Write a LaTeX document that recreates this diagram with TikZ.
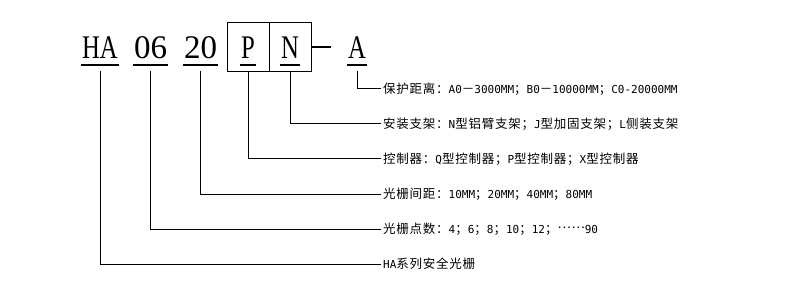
\documentclass[tikz,border=0pt]{standalone}
\usepackage{fontspec}
\newfontfamily\codefont[FakeStretch=0.75]{Liberation Serif}
\newfontfamily\codedigits{Liberation Serif}
\newfontfamily\cjk[LetterSpace=6]{Noto Sans CJK SC}
\newfontfamily\latfont{DejaVu Sans Mono}
\newcommand\lat[1]{{\latfont\fontsize{11}{12}\selectfont #1}}
\usetikzlibrary{positioning}

\begin{document}
\begin{tikzpicture}[
  x=1pt, y=-1pt,
  code/.style={inner sep=0pt, anchor=base, font=\codefont\fontsize{33}{33}\selectfont},
  digits/.style={code, font=\codedigits\fontsize{33}{33}\selectfont},
  cell/.style={draw, line width=1pt, minimum width=42pt, minimum height=49pt, inner sep=0pt},
  uline/.style={line width=2pt, shorten <=-1pt, shorten >=-1pt},
  leader/.style={line width=1pt},
  desc/.style={anchor=west, inner xsep=2pt, inner ysep=0pt, font=\cjk\fontsize{12.5}{12.5}\selectfont},
]
\fill[white] (0,0) rectangle (790,302);
\useasboundingbox (0,0) rectangle (790,302);

% Nodes
\node[cell] (cellP) at (248,47) {};
\node[cell] (cellN) at (290,47) {};
\node[code] (ha) at (100,59) {HA};
\node[digits] (n06) at (150.5,59) {06};
\node[digits] (n20) at (200.5,59) {20};
\node[code] (p) at (248,59) {P};
\node[code] (n) at (290,59) {N};
\node[code] (a) at (357,59) {A};
\coordinate (dashend) at (331,47);

\node[desc] (tA) at (381,89) {保护距离：\lat{A0}－\lat{3000MM}；\lat{B0}－\lat{10000MM}；\lat{C0-20000MM}};
\node[desc] (tN) at (381,124) {安装支架：\lat{N}型铝臂支架；\lat{J}型加固支架；\lat{L}侧装支架};
\node[desc] (tP) at (381,159) {控制器：\lat{Q}型控制器；\lat{P}型控制器；\lat{X}型控制器};
\node[desc] (t20) at (381,194) {光栅间距：\lat{10MM}；\lat{20MM}；\lat{40MM}；\lat{80MM}};
\node[desc] (t06) at (381,229) {光栅点数：\lat{4}；\lat{6}；\lat{8}；\lat{10}；\lat{12}；\raisebox{0.35em}{……}\lat{90}};
\node[desc] (tHA) at (381,264) {\lat{HA}系列安全光栅};

% Underlines
\foreach \c in {ha,n06,n20,p,n,a}
  \draw[uline] ([yshift=-6pt]\c.base west) -- ([yshift=-6pt]\c.base east);
\draw[line width=1.5pt] (cellN.east) -- (dashend);

% Leaders
\draw[leader] (a.base) ++(0,12) |- (tA.west);
\draw[leader] (cellN.south) |- (tN.west);
\draw[leader] (cellP.south) |- (tP.west);
\draw[leader] (n20.base) ++(0,12) |- (t20.west);
\draw[leader] (n06.base) ++(0,12) |- (t06.west);
\draw[leader] (ha.base) ++(0,12) |- (tHA.west);

\end{tikzpicture}
\end{document}
